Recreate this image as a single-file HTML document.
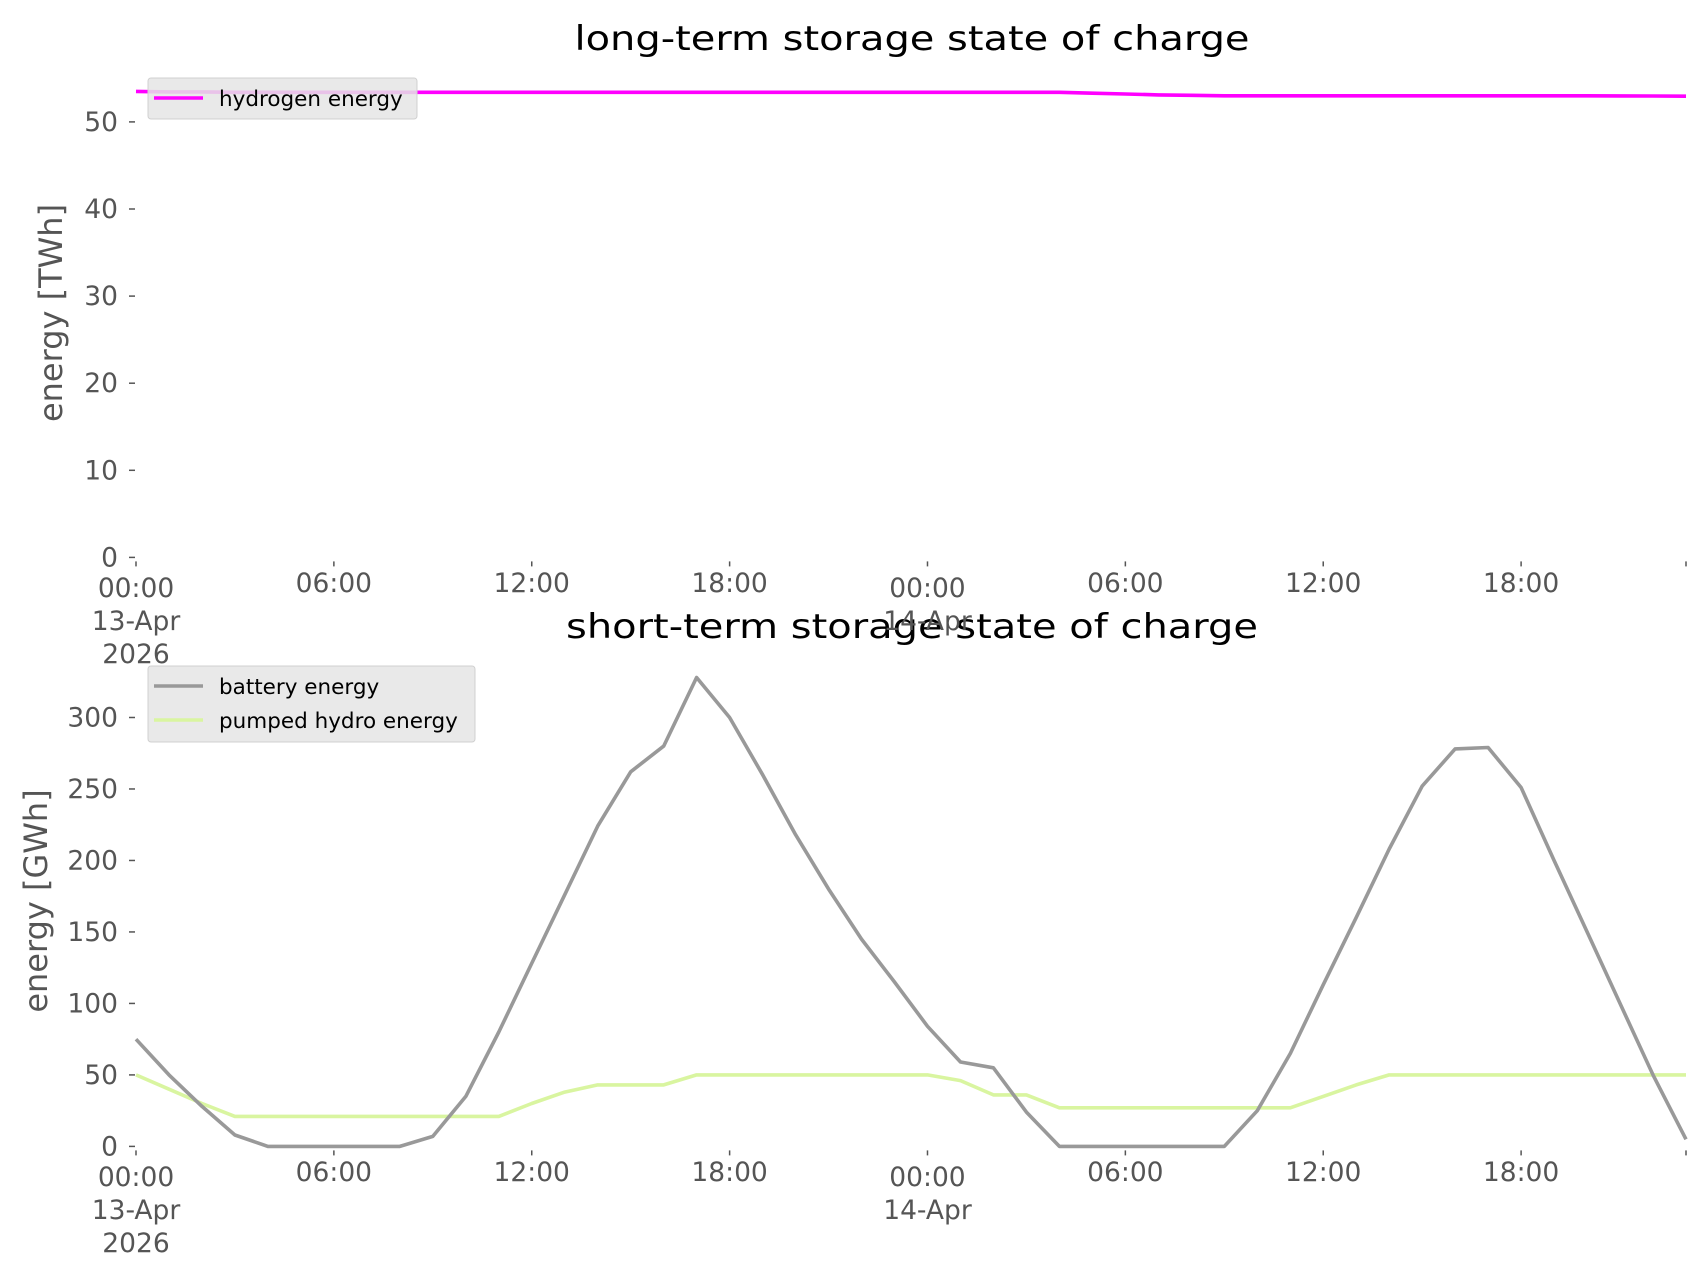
<!DOCTYPE html>
<html><head><meta charset="utf-8"><style>
html,body{margin:0;padding:0;background:#fff;}
svg{display:block;font-family:"DejaVu Sans","Liberation Sans",sans-serif;}
</style></head><body>
<svg id="chart" width="1706" height="1277" viewBox="0 0 1706 1277" xmlns="http://www.w3.org/2000/svg">
<text x="912" y="50" font-size="34" text-anchor="middle" fill="#000" textLength="675" lengthAdjust="spacingAndGlyphs">long-term storage state of charge</text>
<text x="912" y="638" font-size="34" text-anchor="middle" fill="#000" textLength="692" lengthAdjust="spacingAndGlyphs">short-term storage state of charge</text>
<text transform="translate(62,313) rotate(-90)" font-size="32" text-anchor="middle" fill="#555">energy [TWh]</text>
<text transform="translate(47,901) rotate(-90)" font-size="32" text-anchor="middle" fill="#555">energy [GWh]</text>
<g id="topPlot"></g>
<g id="botPlot"></g>
</svg>
<script>
const hours = [];
for (let i = 0; i < 48; i++) hours.push(i);
const hydrogen = [53.5,53.45,53.45,53.4,53.4,53.4,53.4,53.4,53.4,53.4,53.4,53.4,53.4,53.4,53.4,53.4,53.4,53.4,53.4,53.4,53.4,53.4,53.4,53.4,53.4,53.4,53.4,53.4,53.4,53.3,53.2,53.1,53.05,53.0,53.0,53.0,53.0,53.0,53.0,53.0,53.0,53.0,53.0,53.0,53.0,52.98,52.97,52.95];
const battery = [75,50,28,8,0,0,0,0,0,7,35,80,128,176,224,262,280,328,300,260,218,180,145,115,84,59,55,24,0,0,0,0,0,0,25,65,113,160,208,252,278,279,251,200,150,100,50,5];
const pumped = [50,40,30,21,21,21,21,21,21,21,21,21,30,38,43,43,43,50,50,50,50,50,50,50,50,46,36,36,27,27,27,27,27,27,27,27,35,43,50,50,50,50,50,50,50,50,50,50];
const topTicks = [0,10,20,30,40,50];
const botTicks = [0,50,100,150,200,250,300];
const xTickHours = [0,6,12,18,24,30,36,42];
const xTickLabels = [["00:00","13-Apr","2026"],["06:00"],["12:00"],["18:00"],["00:00","14-Apr"],["06:00"],["12:00"],["18:00"]];

const NS = "http://www.w3.org/2000/svg";
const X0 = 136, X1 = 1686;
const xs = h => X0 + (X1 - X0) * h / 47;
const yTop = v => 557.4 - v * 8.71;
const yBot = v => 1146.4 - v * 1.4297;

function mk(tag, attrs, parent) {
  const e = document.createElementNS(NS, tag);
  for (const k in attrs) e.setAttribute(k, attrs[k]);
  parent.appendChild(e);
  return e;
}

function axes(g, yfn, ticks, zeroY, prefix, baseY) {
  ticks.forEach(t => {
    const y = yfn(t);
    const tk = mk("line", {x1:129, x2:135, y1:y, y2:y, stroke:"#555", "stroke-width":1.5}, g);
    
    
    const tx = mk("text", {x:118, y:y+9, "font-size":26.5, "text-anchor":"end", fill:"#555"}, g);
    
    
    tx.textContent = t;
  });
  const xt = xTickHours.concat([47]);
  xt.forEach(h => {
    const x = xs(h);
    const tk = mk("line", {x1:x, x2:x, y1:zeroY+4, y2:zeroY+9, stroke:"#555", "stroke-width":1.5}, g);
    
    
  });
  xTickHours.forEach((h, i) => {
    const lines = xTickLabels[i];
    lines.forEach((s, j) => {
      const base = lines.length > 1 ? baseY : baseY - 5;
      const tx = mk("text", {x:xs(h), y:base + j*33, "font-size":26.5, "text-anchor":"middle", fill:"#555"}, g);
      
      
      tx.textContent = s;
    });
  });
}

function series(g, vals, yfn, color, name) {
  const pts = hours.map((h, i) => xs(h).toFixed(1) + "," + yfn(vals[i]).toFixed(1)).join(" ");
  const p = mk("polyline", {points:pts, fill:"none", stroke:color, "stroke-width":3.6, "stroke-linejoin":"round"}, g);
  
  
}

function legend(g, x, y, w, h, entries) {
  const box = mk("rect", {x:x, y:y, width:w, height:h, rx:3, fill:"#e5e5e5", "fill-opacity":0.85, stroke:"#d0d0d0"}, g);
  
  
  entries.forEach((en, i) => {
    const cy = y + 20 + i * 34;
    const l = mk("line", {x1:x+6, x2:x+55, y1:cy, y2:cy, stroke:en[1], "stroke-width":3.6}, g);
    
    
    const t = mk("text", {x:x+71, y:cy+8, "font-size":21.5, fill:"#000"}, g);
    
    
    t.textContent = en[0];
  });
}

const topG = document.getElementById("topPlot");
const botG = document.getElementById("botPlot");
axes(topG, yTop, topTicks, 557.4, "top", 597);
series(topG, hydrogen, yTop, "#ff00ff", "hydrogen-line");
legend(topG, 148, 78, 269, 41, [["hydrogen energy", "#ff00ff"]]);

axes(botG, yBot, botTicks, 1146.4, "bottom", 1186);
series(botG, pumped, yBot, "#d9f5a0", "pumped-hydro-line");
series(botG, battery, yBot, "#999999", "battery-line");
legend(botG, 148, 666, 327, 76, [["battery energy", "#999999"], ["pumped hydro energy", "#d9f5a0"]]);
</script>
</body></html>
